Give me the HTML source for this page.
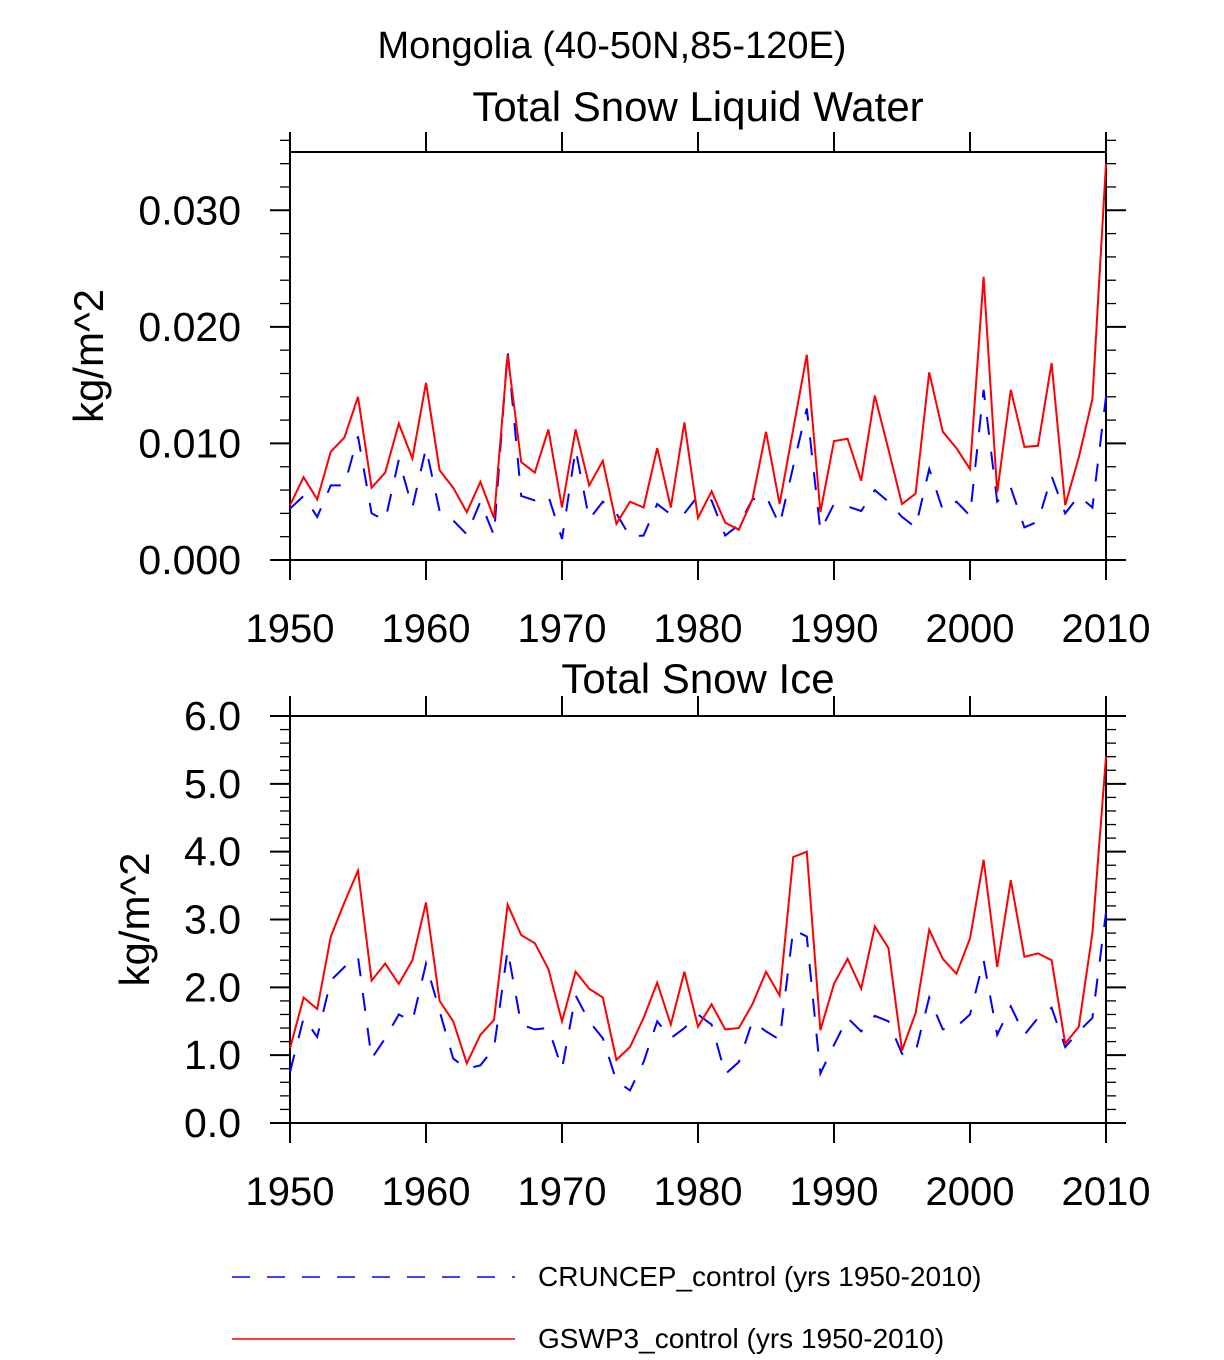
<!DOCTYPE html>
<html><head><meta charset="utf-8"><style>
body{margin:0;background:#fff}
svg{font-family:"Liberation Sans",sans-serif}
</style></head><body>
<svg width="1224" height="1355" xmlns="http://www.w3.org/2000/svg" id="chart">
<text x="612" y="58" font-size="38" text-anchor="middle">Mongolia (40-50N,85-120E)</text>
<text x="698" y="121" font-size="42" text-anchor="middle">Total Snow Liquid Water</text>
<text x="698" y="693" font-size="42" text-anchor="middle">Total Snow Ice</text>
<g id="p1"></g>
<g id="p2"></g>
<g>
<line x1="232" y1="1277" x2="515" y2="1277" stroke="#00f" stroke-width="1.5" stroke-dasharray="18,17"/>
<text x="538" y="1286" font-size="28">CRUNCEP_control (yrs 1950-2010)</text>
<line x1="232" y1="1339" x2="515" y2="1339" stroke="#f00" stroke-width="1.5"/>
<text x="538" y="1348" font-size="28">GSWP3_control (yrs 1950-2010)</text>
</g>
</svg>
<script>
const years=[];for(let y=1950;y<=2010;y++)years.push(y);
const xTicks=[1950,1960,1970,1980,1990,2000,2010];
const liqRed=[0.0047,0.0071,0.0052,0.0093,0.0105,0.0140,0.0062,0.0075,0.0117,0.0087,0.0152,0.0077,0.0062,0.0041,0.0067,0.0036,0.0176,0.0084,0.0075,0.0112,0.0045,0.0112,0.0064,0.0085,0.0031,0.0050,0.0045,0.0096,0.0045,0.0118,0.0036,0.0059,0.0032,0.0026,0.0052,0.0110,0.0048,0.0112,0.0176,0.0041,0.0102,0.0104,0.0068,0.0141,0.0095,0.0048,0.0057,0.0161,0.0110,0.0096,0.0078,0.0243,0.0058,0.0146,0.0097,0.0098,0.0169,0.0047,0.0088,0.0138,0.0340];
const liqBlue=[0.0044,0.0055,0.0037,0.0064,0.0064,0.0106,0.0040,0.0034,0.0086,0.0045,0.0096,0.0042,0.0034,0.0022,0.0050,0.0021,0.0180,0.0055,0.0051,0.0055,0.0018,0.0095,0.0035,0.0050,0.0040,0.0020,0.0021,0.0048,0.0039,0.0040,0.0055,0.0051,0.0021,0.0030,0.0052,0.0055,0.0030,0.0080,0.0130,0.0025,0.0048,0.0046,0.0042,0.0060,0.0050,0.0037,0.0028,0.0078,0.0043,0.0050,0.0038,0.0146,0.0050,0.0062,0.0028,0.0033,0.0072,0.0040,0.0055,0.0045,0.0140];
const iceRed=[1.1,1.85,1.68,2.75,3.25,3.72,2.1,2.35,2.05,2.4,3.25,1.8,1.5,0.88,1.3,1.52,3.22,2.77,2.65,2.27,1.5,2.23,1.98,1.85,0.93,1.12,1.55,2.07,1.45,2.23,1.42,1.75,1.38,1.4,1.75,2.23,1.88,3.92,4.0,1.37,2.05,2.42,1.98,2.9,2.58,1.07,1.62,2.85,2.42,2.2,2.72,3.88,2.3,3.58,2.45,2.5,2.4,1.17,1.42,2.8,5.4];
const iceBlue=[0.75,1.55,1.27,2.1,2.3,2.45,0.95,1.25,1.6,1.5,2.35,1.65,0.95,0.8,0.85,1.1,2.55,1.45,1.38,1.4,0.8,1.88,1.5,1.25,0.62,0.48,0.9,1.5,1.25,1.4,1.6,1.45,0.72,0.9,1.5,1.35,1.23,2.85,2.75,0.73,1.15,1.55,1.35,1.58,1.5,1.02,1.05,1.85,1.38,1.42,1.6,2.4,1.3,1.72,1.3,1.55,1.7,1.12,1.35,1.55,3.1];
const liqTicks=[0,0.01,0.02,0.03];const liqTickLabels=["0.000","0.010","0.020","0.030"];
const iceTicks=[0,1,2,3,4,5,6];const iceTickLabels=["0.0","1.0","2.0","3.0","4.0","5.0","6.0"];
const NS="http://www.w3.org/2000/svg";
function mk(g,t,a){const e=document.createElementNS(NS,t);for(const k in a)e.setAttribute(k,a[k]);g.appendChild(e);return e;}
function panel(g,top,bot,ymax,majT,majL,minStep,red,blue,ylab,ylabX){
 const L=290,R=1106;
 const sx=v=>L+(v-1950)/60*(R-L);
 const sy=v=>bot-v/ymax*(bot-top);
 let b=mk(g,'rect',{x:L,y:top,width:R-L,height:bot-top,fill:'none',stroke:'#000','stroke-width':2});
 
 
 const nMin=Math.round(ymax/minStep);
 for(let i=0;i<=nMin;i++){const v=i*minStep,y=sy(v);
  const isMaj=majT.some(t=>Math.abs(t-v)<1e-9);const len=isMaj?20:10;
  let t1=mk(g,'line',{x1:L-len,y1:y,x2:L,y2:y,stroke:'#000','stroke-width':isMaj?2:1.3});
  
  
  let t2=mk(g,'line',{x1:R,y1:y,x2:R+len,y2:y,stroke:'#000','stroke-width':isMaj?2:1.3});
  
  }
 majT.forEach((v,i)=>{let t=mk(g,'text',{x:241,y:sy(v)+14,'font-size':41,'text-anchor':'end'});t.textContent=majL[i];
  
  });
 xTicks.forEach(v=>{const x=sx(v);
  let a=mk(g,'line',{x1:x,y1:bot,x2:x,y2:bot+20,stroke:'#000','stroke-width':2});
  
  
  let c=mk(g,'line',{x1:x,y1:top-20,x2:x,y2:top,stroke:'#000','stroke-width':2});
  
  
  let t=mk(g,'text',{x:x,y:bot+82,'font-size':40,'text-anchor':'middle'});t.textContent=v;
  
  });
 let yl=mk(g,'text',{x:ylabX,y:(top+bot)/2,'font-size':42,'text-anchor':'middle',transform:`rotate(-90 ${ylabX} ${(top+bot)/2})`});yl.textContent=ylab;
 
 
 const pts=arr=>arr.map((v,i)=>sx(years[i]).toFixed(1)+','+sy(v).toFixed(1)).join(' ');
 let pb=mk(g,'polyline',{points:pts(blue),fill:'none',stroke:'#00f','stroke-width':2,'stroke-dasharray':'18,17'});
 
 
 let pr=mk(g,'polyline',{points:pts(red),fill:'none',stroke:'#f00','stroke-width':2});
 
 
}
panel(document.getElementById('p1'),152,560,0.035,liqTicks,liqTickLabels,0.002,liqRed,liqBlue,'kg/m^2',103);
panel(document.getElementById('p2'),716,1123,6,iceTicks,iceTickLabels,0.2,iceRed,iceBlue,'kg/m^2',149);
</script>
</body></html>
